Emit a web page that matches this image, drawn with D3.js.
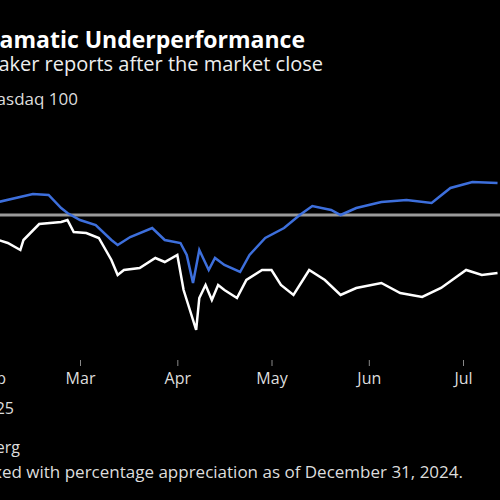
<!DOCTYPE html>
<html><head><meta charset="utf-8">
<script src="https://cdn.jsdelivr.net/npm/d3@7"></script>
<style>body{margin:0;background:#000}svg{display:block}</style>
</head><body><svg id="c" width="500" height="500"></svg>
<script>
const months = ["2025-02-01","2025-03-01","2025-04-01","2025-05-01","2025-06-01","2025-07-01"];
const monthLabels = ["Feb","Mar","Apr","May","Jun","Jul"];
const blueDates = ["2025-02-03","2025-02-14","2025-02-19","2025-02-23","2025-02-25","2025-03-01","2025-03-06","2025-03-11","2025-03-13","2025-03-17","2025-03-24","2025-03-28","2025-04-02","2025-04-04","2025-04-06","2025-04-08","2025-04-11","2025-04-13","2025-04-16","2025-04-21","2025-04-24","2025-04-29","2025-05-05","2025-05-10","2025-05-14","2025-05-20","2025-05-23","2025-05-28","2025-06-05","2025-06-13","2025-06-21","2025-06-27","2025-07-04","2025-07-12"];
const blueValues = [2.6,4.2,4,1.4,0.4,-1,-2,-5,-6,-4.4,-2.6,-5,-5.6,-8,-13.6,-7,-11,-8.6,-10,-11.4,-8,-4.6,-2.6,0,1.8,1,0,1.4,2.6,3,2.4,5.4,6.6,6.4];
const whiteDates = ["2025-02-03","2025-02-06","2025-02-10","2025-02-11","2025-02-16","2025-02-23","2025-02-25","2025-02-27","2025-03-03","2025-03-07","2025-03-11","2025-03-13","2025-03-15","2025-03-20","2025-03-25","2025-03-28","2025-04-01","2025-04-03","2025-04-05","2025-04-07","2025-04-08","2025-04-10","2025-04-12","2025-04-14","2025-04-16","2025-04-20","2025-04-23","2025-04-28","2025-05-01","2025-05-04","2025-05-08","2025-05-13","2025-05-18","2025-05-23","2025-05-28","2025-06-05","2025-06-11","2025-06-18","2025-06-24","2025-07-02","2025-07-07","2025-07-12"];
const whiteValues = [-5,-5.6,-7,-5,-1.8,-1.4,-1,-3.4,-3.6,-4.6,-9,-12,-11,-10.6,-8.6,-9.4,-8,-15,-19,-23,-16.6,-14,-17,-14,-15,-16.6,-13,-11,-11,-14,-16,-11,-13,-16,-14.6,-13.6,-15.6,-16.4,-14.6,-11,-12,-11.6];

const p = d3.timeParse("%Y-%m-%d");
const svg = d3.select("#c");
const x = d3.scaleTime().domain([p("2025-03-01"), p("2025-07-01")]).range([80, 463]);
const y = d3.scaleLinear().domain([0, 10]).range([215, 165]);
const F = "'Open Sans', sans-serif";

svg.append("text").attr("x",305).attr("y",48).attr("text-anchor","end").attr("fill","#fff")
  .attr("font-family",F).attr("font-weight","bold").attr("font-size",23).text("Dramatic Underperformance");
svg.append("text").attr("x",323).attr("y",71).attr("text-anchor","end").attr("fill","#eee")
  .attr("font-family",F).attr("font-size",20).text("Chipmaker reports after the market close");
svg.append("text").attr("x",78).attr("y",105).attr("text-anchor","end").attr("fill","#ddd")
  .attr("font-family",F).attr("font-size",17).text("Nasdaq 100");

svg.append("line").attr("x1",0).attr("x2",500).attr("y1",y(0)).attr("y2",y(0))
  .attr("stroke","#9a9a9a").attr("stroke-width",3);

const line = d3.line().x(d=>x(p(d[0]))).y(d=>y(d[1])).curve(d3.curveLinear);
svg.append("path").datum(whiteDates.map((d,i)=>[d,whiteValues[i]])).attr("d",line)
  .attr("fill","none").attr("stroke","#fff").attr("stroke-width",2.5);
svg.append("path").datum(blueDates.map((d,i)=>[d,blueValues[i]])).attr("d",line)
  .attr("fill","none").attr("stroke","#3d6fdc").attr("stroke-width",2.5);

const ax = svg.append("g").attr("transform","translate(0,360)")
  .call(d3.axisBottom(x).tickValues(months.map(p)).tickFormat((d,i)=>monthLabels[i]).tickSize(6).tickPadding(7));
ax.select(".domain").remove();
ax.selectAll("line").attr("stroke","#888");
ax.selectAll("text").attr("fill","#ddd").attr("font-family",F).attr("font-size",16);
svg.append("text").attr("x",14).attr("y",414).attr("text-anchor","end").attr("fill","#ddd")
  .attr("font-family",F).attr("font-size",16).text("2025");

svg.append("text").attr("x",20).attr("y",453).attr("text-anchor","end").attr("fill","#ddd")
  .attr("font-family",F).attr("font-size",16).text("Source: Bloomberg");
svg.append("text").attr("x",463).attr("y",478).attr("text-anchor","end").attr("fill","#ddd")
  .attr("font-family",F).attr("font-size",17).text("Note: Indexed with percentage appreciation as of December 31, 2024.");
</script></body></html>
